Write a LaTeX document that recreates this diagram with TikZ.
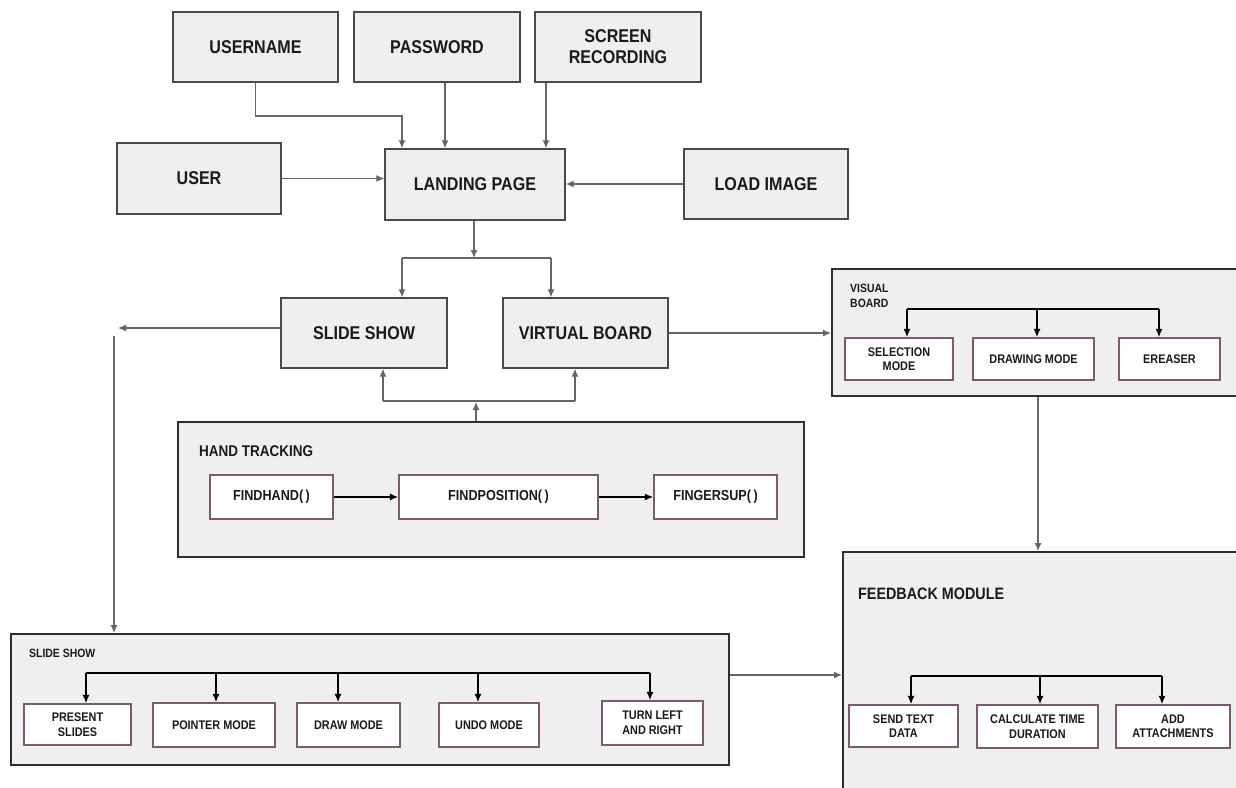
\documentclass[tikz,border=0pt]{standalone}
\usepackage{fontspec}
\setmainfont{Liberation Sans}[FakeStretch=0.87]
\usetikzlibrary{arrows.meta,calc}
\definecolor{boxfill}{HTML}{EFEFEF}
\definecolor{boxline}{HTML}{4A4A4A}
\definecolor{outline}{HTML}{2E2E2E}
\definecolor{innerline}{HTML}{7D5E5E}
\definecolor{conncol}{HTML}{666666}
\definecolor{txt}{HTML}{1A1A1A}
\tikzset{
  topbox/.style={draw=boxline, fill=boxfill, line width=1.4pt, inner sep=0pt, align=center,
    text=txt, font=\fontsize{18.5}{21}\selectfont\bfseries},
  container/.style={draw=outline, fill=boxfill, line width=1.8pt, inner sep=0pt},
  innerbox/.style={draw=innerline, fill=white, line width=1.3pt, inner sep=0pt, align=center,
    text=txt, font=\fontsize{12.5}{14.5}\selectfont\bfseries},
  htbox/.style={innerbox, font=\fontsize{14.5}{17}\selectfont\bfseries},
  clabel/.style={anchor=west, inner sep=0pt, align=left, text=txt},
  conn/.style={draw=conncol, line width=1.3pt, -{Latex[length=8pt,width=7pt]}},
  connplain/.style={draw=conncol, line width=1.3pt},
  busline/.style={draw=black, line width=1.6pt},
  busarr/.style={draw=black, line width=1.6pt, -{Latex[length=8.5pt,width=7pt]}},
}
\begin{document}
\begin{tikzpicture}[x=1pt,y=-1pt]
\useasboundingbox (0,0) rectangle (1236,787);
\fill[white] (0,0) rectangle (1236,787);

% top boxes
\node[topbox, minimum width=165pt, minimum height=70pt] (username) at (255.5,47) {USERNAME};
\node[topbox, minimum width=166pt, minimum height=70pt] (password) at (437,47) {PASSWORD};
\node[topbox, minimum width=166pt, minimum height=70pt] (screen) at (618,47) {SCREEN\\RECORDING};
\node[topbox, minimum width=164pt, minimum height=71pt] (user) at (199,178.5) {USER};
\node[topbox, minimum width=180pt, minimum height=71pt] (landing) at (475,184.5) {LANDING PAGE};
\node[topbox, minimum width=164pt, minimum height=70pt] (loadimg) at (766,184) {LOAD IMAGE};
\node[topbox, minimum width=166pt, minimum height=70pt] (slideshow) at (364,333) {SLIDE SHOW};
\node[topbox, minimum width=165pt, minimum height=70pt] (virtual) at (585.5,333) {VIRTUAL BOARD};

% top connectors
\coordinate (unjog) at (402,116);
\coordinate (pwx) at (445,0);
\coordinate (scx) at (546,0);
\draw[conn] (username.south) -- (username.south |- unjog) -- (unjog) -- (unjog |- landing.north);
\draw[conn] (pwx |- password.south) -- (pwx |- landing.north);
\draw[conn] (scx |- screen.south) -- (scx |- landing.north);
\draw[conn] (user.east) -- (user.east -| landing.west);
\draw[conn] (loadimg.west) -- (loadimg.west -| landing.east);

% landing split
\coordinate (split) at (474,258);
\coordinate (splitL) at (402,258);
\coordinate (splitR) at (551,258);
\draw[conn] (split |- landing.south) -- (split);
\draw[connplain] (splitL) -- (splitR);
\draw[conn] (splitL) -- (splitL |- slideshow.north);
\draw[conn] (splitR) -- (splitR |- virtual.north);

% hand tracking container
\node[container, minimum width=626pt, minimum height=135pt] (handtrack) at (491,489.5) {};
\node[clabel, font=\fontsize{15.5}{18}\selectfont\bfseries] (htlabel) at (199,451) {HAND TRACKING};
\node[htbox, minimum width=123pt, minimum height=44pt] (findhand) at (271.5,497) {FINDHAND(\,)};
\node[htbox, minimum width=199pt, minimum height=44pt] (findpos) at (498.5,497) {FINDPOSITION(\,)};
\node[htbox, minimum width=123pt, minimum height=44pt] (fingersup) at (715.5,497) {FINGERSUP(\,)};
\draw[busarr] (findhand.east) -- (findpos.west);
\draw[busarr] (findpos.east) -- (fingersup.west);

% hand tracking to slide show / virtual board
\coordinate (htj) at (476,402);
\coordinate (htL) at (383,401);
\coordinate (htR) at (575,401);
\draw[conn] (htj |- handtrack.north) -- (htj);
\draw[connplain] (htL) -- (htR);
\draw[conn] (htL) -- (htL |- slideshow.south);
\draw[conn] (htR) -- (htR |- virtual.south);

% visual board container
\node[container, minimum width=418pt, minimum height=127pt] (visboard) at (1041,332.5) {};
\node[clabel, font=\fontsize{12}{15}\selectfont\bfseries] (vblabel) at (850,295.5) {VISUAL\\BOARD};
\node[innerbox, minimum width=108pt, minimum height=42pt] (sel) at (899,359) {SELECTION\\MODE};
\node[innerbox, minimum width=121pt, minimum height=42pt] (drawing) at (1033.5,359) {DRAWING MODE};
\node[innerbox, minimum width=101pt, minimum height=42pt] (eras) at (1169.5,359) {EREASER};
\coordinate (vbL) at (907,309);
\coordinate (vbM) at (1037,309);
\coordinate (vbR) at (1159,309);
\draw[busline] (vbL) -- (vbR);
\draw[busarr] (vbL) -- (vbL |- sel.north);
\draw[busarr] (vbM) -- (vbM |- drawing.north);
\draw[busarr] (vbR) -- (vbR |- eras.north);
\draw[conn] (virtual.east) -- (virtual.east -| visboard.west);

% feedback module container
\node[container, minimum width=407pt, minimum height=250pt] (feedback) at (1046.5,677) {};
\node[clabel, font=\fontsize{16.5}{19}\selectfont\bfseries] (fblabel) at (858,594) {FEEDBACK MODULE};
\node[innerbox, minimum width=109pt, minimum height=42pt] (send) at (903.5,726) {SEND TEXT\\DATA};
\node[innerbox, minimum width=121pt, minimum height=43pt] (calc) at (1037.5,726.5) {CALCULATE TIME\\DURATION};
\node[innerbox, minimum width=114pt, minimum height=43pt] (attach) at (1173,726.5) {ADD\\ATTACHMENTS};
\coordinate (fbL) at (911,676);
\coordinate (fbM) at (1040,676);
\coordinate (fbR) at (1162,676);
\draw[busline] (fbL) -- (fbR);
\draw[busarr] (fbL) -- (fbL |- send.north);
\draw[busarr] (fbM) -- (fbM |- calc.north);
\draw[busarr] (fbR) -- (fbR |- attach.north);
\coordinate (vbdown) at (1038,0);
\draw[conn] (vbdown |- visboard.south) -- (vbdown |- feedback.north);

% slide show container
\node[container, minimum width=718pt, minimum height=131pt] (ssbox) at (370,699.5) {};
\node[clabel, font=\fontsize{12}{14}\selectfont\bfseries] (sslabel) at (29,653) {SLIDE SHOW};
\node[innerbox, minimum width=107pt, minimum height=41pt] (present) at (77.5,724.5) {PRESENT\\SLIDES};
\node[innerbox, minimum width=122pt, minimum height=44pt] (pointer) at (214,725) {POINTER MODE};
\node[innerbox, minimum width=103pt, minimum height=44pt] (drawmode) at (348.5,725) {DRAW MODE};
\node[innerbox, minimum width=100pt, minimum height=44pt] (undo) at (489,725) {UNDO MODE};
\node[innerbox, minimum width=101pt, minimum height=44pt] (turn) at (652.5,723) {TURN LEFT\\AND RIGHT};
\coordinate (ssL) at (86,673);
\coordinate (ss2) at (216,673);
\coordinate (ss3) at (338,673);
\coordinate (ss4) at (478,673);
\coordinate (ssR) at (650,673);
\draw[busline] (ssL) -- (ssR);
\draw[busarr] (ssL) -- (ssL |- present.north);
\draw[busarr] (ss2) -- (ss2 |- pointer.north);
\draw[busarr] (ss3) -- (ss3 |- drawmode.north);
\draw[busarr] (ss4) -- (ss4 |- undo.north);
\draw[busarr] (ssR) -- (ssR |- turn.north);

% slide show (top) to slide show container
\coordinate (ssturn) at (118,328);
\coordinate (sstop) at (114,336);
\draw[conn] (slideshow.west |- ssturn) -- (ssturn);
\draw[conn] (sstop) -- (sstop |- ssbox.north);

% slide show container to feedback
\coordinate (fbarrow) at (0,675);
\draw[conn] (ssbox.east |- fbarrow) -- (feedback.west |- fbarrow);
\end{tikzpicture}
\end{document}
